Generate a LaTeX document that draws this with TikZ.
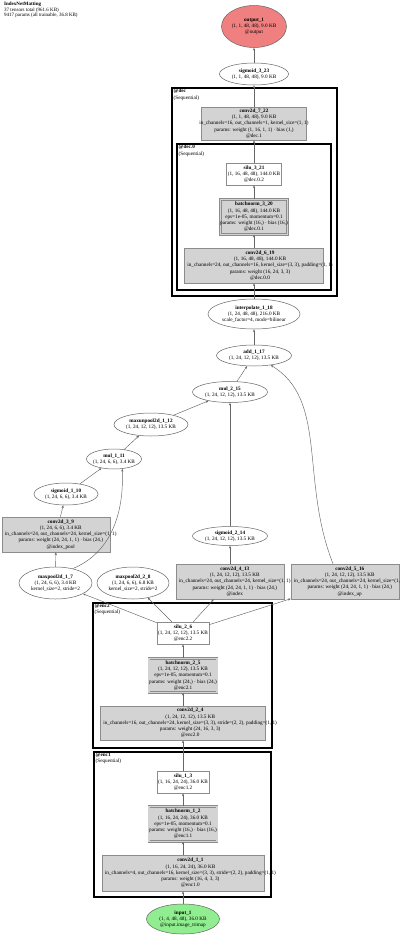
\documentclass[tikz,border=0pt]{standalone}
\usepackage{fontspec}
\setmainfont{Liberation Serif}
\usetikzlibrary{shapes.geometric,arrows.meta}
\definecolor{boxgray}{HTML}{D3D3D3}
\definecolor{outred}{HTML}{F08080}
\definecolor{ingreen}{HTML}{90EE90}
\definecolor{edgec}{HTML}{666666}
\newcommand\fsz{\fontsize{5.2}{6.2}\selectfont}
\begin{document}
\begin{tikzpicture}[x=1pt,y=-1pt,
 lbl/.style={font=\fsz, align=center, inner sep=0pt},
 gbox/.style={rectangle, draw=black!45, fill=boxgray, line width=0.5pt, inner sep=0pt},
 wbox/.style={rectangle, draw=black!45, fill=white, line width=0.5pt, inner sep=0pt},
 dbox/.style={gbox, double=boxgray, double distance=1.8pt},
 oval/.style={ellipse, draw=black!60, fill=white, line width=0.5pt, inner sep=0pt},
 conn/.style={draw=edgec, line width=0.45pt, -{Stealth[length=2.8pt,width=2.2pt]}},
 cluster/.style={draw=black, line width=1.6pt},
 clab/.style={font=\fsz, align=left, anchor=north west, inner sep=0pt},
 wlab/.style={lbl, anchor=west, xshift=3pt},
]
\useasboundingbox (0,0) rectangle (400,937);
\fill[white] (0,0) rectangle (400,937);

% title
\node[clab, font=\fontsize{5}{5.4}\selectfont] (title) at (4,2)
  {\textbf{IndexNetMatting}\\37 tensors total (961.6 KB)\\9417 params (all trainable, 36.8 KB)};

% clusters
\draw[cluster] (172,88) rectangle (337,296);
\draw[cluster] (177,144) rectangle (331,290);
\draw[cluster] (93,603) rectangle (272,748);
\draw[cluster] (94,752) rectangle (271,897);
\node[clab] (ldec) at (173.5,89) {\textbf{@dec}\\(Sequential)};
\node[clab] (ldeco) at (178.5,145) {\textbf{@dec.0}\\(Sequential)};
\node[clab] (lenc2) at (94.5,604) {\textbf{@enc2}\\(Sequential)};
\node[clab] (lenc1) at (95.5,753) {\textbf{@enc1}\\(Sequential)};

% decoder column
\node[oval, fill=outred, minimum width=65pt, minimum height=42pt,
  label={[lbl]center:{\textbf{output\_1}\\(1, 1, 48, 48), 9.0 KB\\@output}}] (out1) at (254,26.5) {};
\node[oval, minimum width=69pt, minimum height=22pt,
  label={[lbl]center:{\textbf{sigmoid\_3\_23}\\(1, 1, 48, 48), 9.0 KB}}] (sig323) at (254,74) {};
\node[gbox, minimum width=105pt, minimum height=33pt,
  label={[lbl]center:{\textbf{conv2d\_7\_22}\\(1, 1, 48, 48), 9.0 KB\\in\_channels=16, out\_channels=1, kernel\_size=(1, 1)\\params: weight (1, 16, 1, 1) · bias (1,)\\@dec.1}}] (cv722) at (254,123.5) {};
\node[wbox, minimum width=55pt, minimum height=22pt,
  label={[lbl]center:{\textbf{silu\_3\_21}\\(1, 16, 48, 48), 144.0 KB\\@dec.0.2}}] (silu321) at (254,174) {};
\node[dbox, minimum width=67pt, minimum height=35pt,
  label={[lbl]center:{\textbf{batchnorm\_3\_20}\\(1, 16, 48, 48), 144.0 KB\\eps=1e-05, momentum=0.1\\params: weight (16,) · bias (16,)\\@dec.0.1}}] (bn320) at (254,217) {};
\node[gbox, minimum width=139pt, minimum height=35pt,
  label={[wlab]west:{\textbf{conv2d\_6\_19}\\(1, 16, 48, 48), 144.0 KB\\in\_channels=24, out\_channels=16, kernel\_size=(3, 3), padding=(1, 1)\\params: weight (16, 24, 3, 3)\\@dec.0.0}}] (cv619) at (254,265.5) {};
\node[oval, minimum width=92pt, minimum height=30pt,
  label={[lbl]center:{\textbf{interpolate\_1\_18}\\(1, 24, 48, 48), 216.0 KB\\scale\_factor=4, mode=bilinear}}] (interp) at (254,314) {};
\node[oval, minimum width=75pt, minimum height=21pt,
  label={[lbl]center:{\textbf{add\_1\_17}\\(1, 24, 12, 12), 13.5 KB}}] (add117) at (254,355.5) {};
\node[oval, minimum width=75pt, minimum height=21pt,
  label={[lbl]center:{\textbf{mul\_2\_15}\\(1, 24, 12, 12), 13.5 KB}}] (mul215) at (230,392) {};
\node[oval, minimum width=74pt, minimum height=23pt,
  label={[lbl]center:{\textbf{maxunpool2d\_1\_12}\\(1, 24, 12, 12), 13.5 KB}}] (unpool) at (151,424.5) {};
\node[oval, minimum width=55pt, minimum height=20pt,
  label={[lbl]center:{\textbf{mul\_1\_11}\\(1, 24, 6, 6), 3.4 KB}}] (mul111) at (114,459) {};
\node[oval, minimum width=64pt, minimum height=22pt,
  label={[lbl]center:{\textbf{sigmoid\_1\_10}\\(1, 24, 6, 6), 3.4 KB}}] (sig110) at (66,494) {};
\node[gbox, minimum width=108pt, minimum height=35pt,
  label={[wlab]west:{\textbf{conv2d\_3\_9}\\(1, 24, 6, 6), 3.4 KB\\in\_channels=24, out\_channels=24, kernel\_size=(1, 1)\\params: weight (24, 24, 1, 1) · bias (24,)\\@index\_pool}}] (cv39) at (56,534.5) {};
\node[oval, minimum width=73pt, minimum height=32pt,
  label={[lbl]center:{\textbf{maxpool2d\_1\_7}\\(1, 24, 6, 6), 3.4 KB\\kernel\_size=2, stride=2}}] (mp17) at (55.5,583) {};
\node[oval, minimum width=72pt, minimum height=32pt,
  label={[lbl]center:{\textbf{maxpool2d\_2\_8}\\(1, 24, 6, 6), 6.8 KB\\kernel\_size=2, stride=2}}] (mp28) at (133,583) {};
\node[oval, minimum width=75pt, minimum height=19pt,
  label={[lbl]center:{\textbf{sigmoid\_2\_14}\\(1, 24, 12, 12), 13.5 KB}}] (sig214) at (230,536) {};
\node[gbox, minimum width=108pt, minimum height=35pt,
  label={[wlab]west:{\textbf{conv2d\_4\_13}\\(1, 24, 12, 12), 13.5 KB\\in\_channels=24, out\_channels=24, kernel\_size=(1, 1)\\params: weight (24, 24, 1, 1) · bias (24,)\\@index}}] (cv413) at (230,581.5) {};
\node[gbox, minimum width=108pt, minimum height=35pt,
  label={[wlab]west:{\textbf{conv2d\_5\_16}\\(1, 24, 12, 12), 13.5 KB\\in\_channels=24, out\_channels=24, kernel\_size=(1, 1)\\params: weight (24, 24, 1, 1) · bias (24,)\\@index\_up}}] (cv516) at (345,581.5) {};

% encoder column
\node[wbox, minimum width=52pt, minimum height=22pt,
  label={[lbl]center:{\textbf{silu\_2\_6}\\(1, 24, 12, 12), 13.5 KB\\@enc2.2}}] (silu26) at (183,633) {};
\node[dbox, minimum width=68pt, minimum height=34pt,
  label={[lbl]center:{\textbf{batchnorm\_2\_5}\\(1, 24, 12, 12), 13.5 KB\\eps=1e-05, momentum=0.1\\params: weight (24,) · bias (24,)\\@enc2.1}}] (bn25) at (183,675.5) {};
\node[gbox, minimum width=165pt, minimum height=34pt,
  label={[wlab]west:{\textbf{conv2d\_2\_4}\\(1, 24, 12, 12), 13.5 KB\\in\_channels=16, out\_channels=24, kernel\_size=(3, 3), stride=(2, 2), padding=(1, 1)\\params: weight (24, 16, 3, 3)\\@enc2.0}}] (cv24) at (183,723) {};
\node[wbox, minimum width=52pt, minimum height=22pt,
  label={[lbl]center:{\textbf{silu\_1\_3}\\(1, 16, 24, 24), 36.0 KB\\@enc1.2}}] (silu13) at (183,782) {};
\node[dbox, minimum width=68pt, minimum height=35pt,
  label={[lbl]center:{\textbf{batchnorm\_1\_2}\\(1, 16, 24, 24), 36.0 KB\\eps=1e-05, momentum=0.1\\params: weight (16,) · bias (16,)\\@enc1.1}}] (bn12) at (183,824) {};
\node[gbox, minimum width=162pt, minimum height=36pt,
  label={[wlab]west:{\textbf{conv2d\_1\_1}\\(1, 16, 24, 24), 36.0 KB\\in\_channels=4, out\_channels=16, kernel\_size=(3, 3), stride=(2, 2), padding=(1, 1)\\params: weight (16, 4, 3, 3)\\@enc1.0}}] (cv11) at (183,873) {};
\node[oval, fill=ingreen, minimum width=73pt, minimum height=30pt,
  label={[lbl]center:{\textbf{input\_1}\\(1, 4, 48, 48), 36.0 KB\\@input.image\_trimap}}] (in1) at (183,919) {};

% connectors
\draw[conn] (in1) -- (cv11);
\draw[conn] (cv11) -- (bn12);
\draw[conn] (bn12) -- (silu13);
\draw[conn] (silu13) -- (cv24);
\draw[conn] (cv24) -- (bn25);
\draw[conn] (bn25) -- (silu26);
\draw[conn] (silu26) -- (mp17);
\draw[conn] (silu26) -- (mp28);
\draw[conn] (silu26) -- (cv413);
\draw[conn] (silu26) -- (cv516);
\draw[conn] (mp17) -- (cv39);
\draw[conn] (mp17.40) .. controls (113,552) and (124,510) .. (mul111.-50);
\draw[conn] (cv39) -- (sig110);
\draw[conn] (sig110) -- (mul111);
\draw[conn] (mul111) -- (unpool);
\draw[conn] (unpool) -- (mul215);
\draw[conn] (cv413) -- (sig214);
\draw[conn] (sig214) -- (mul215);
\draw[conn] (mul215) -- (add117);
\draw[conn] ([xshift=-12pt]cv516.north) .. controls (300,480) and (328,400) .. (add117.-30);
\draw[conn] (add117) -- (interp);
\draw[conn] (interp) -- (cv619);
\draw[conn] (cv619) -- (bn320);
\draw[conn] (bn320) -- (silu321);
\draw[conn] (silu321) -- (cv722);
\draw[conn] (cv722) -- (sig323);
\draw[conn] (sig323) -- (out1);
\end{tikzpicture}
\end{document}
